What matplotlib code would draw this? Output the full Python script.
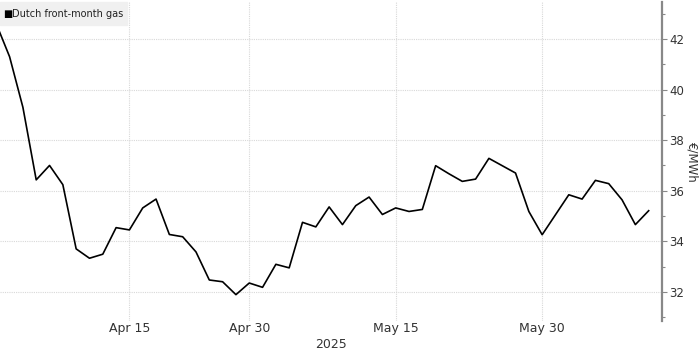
import matplotlib
matplotlib.use("Agg")
import matplotlib.pyplot as plt
from matplotlib.ticker import MultipleLocator

# trading days (Good Friday / Easter Monday closed), Apr 1 - Jun 11 2025
dates = [
    "Apr 1", "Apr 2", "Apr 3", "Apr 4", "Apr 7", "Apr 8", "Apr 9", "Apr 10", "Apr 11",
    "Apr 14", "Apr 15", "Apr 16", "Apr 17", "Apr 22", "Apr 23", "Apr 24", "Apr 25",
    "Apr 28", "Apr 29", "Apr 30", "May 1", "May 2", "May 5", "May 6", "May 7", "May 8",
    "May 9", "May 12", "May 13", "May 14", "May 15", "May 16", "May 19", "May 20",
    "May 21", "May 22", "May 23", "May 26", "May 27", "May 28", "May 29", "May 30",
    "Jun 2", "Jun 3", "Jun 4", "Jun 5", "Jun 6", "Jun 9", "Jun 10", "Jun 11",
]
gas = [
    42.60, 41.30, 39.30, 36.43, 37.00, 36.24, 33.70, 33.33, 33.49,
    34.54, 34.45, 35.32, 35.67, 34.27, 34.18, 33.58, 32.47,
    32.40, 31.89, 32.35, 32.18, 33.09, 32.95, 34.75, 34.57, 35.36,
    34.66, 35.41, 35.75, 35.06, 35.32, 35.18, 35.26, 36.99,
    36.67, 36.37, 36.46, 37.28, 36.99, 36.70, 35.18, 34.26,
    35.05, 35.84, 35.67, 36.41, 36.28, 35.64, 34.66, 35.21,
]
tick_dates = ["Apr 15", "Apr 30", "May 15", "May 30"]
yticks = [32, 34, 36, 38, 40, 42]

x = list(range(len(dates)))

fig = plt.figure(figsize=(7, 3.5), dpi=100)
ax = fig.add_axes([0.0, 0.083, 0.9457, 0.911])

ax.plot(x, gas, color="black", lw=1.2, zorder=3)

ax.set_xlim(0.28, 50.0)
ax.set_ylim(30.85, 43.46)

tick_pos = [dates.index(d) for d in tick_dates]
ax.set_xticks(tick_pos)
ax.set_xticklabels(tick_dates, fontsize=9, color="#333333")
ax.tick_params(axis="x", length=0, pad=1)

ax.yaxis.tick_right()
ax.set_yticks(yticks)
ax.yaxis.set_minor_locator(MultipleLocator(1))
ax.tick_params(axis="y", which="major", length=3.5, width=0.8, color="#888888",
               labelsize=8.5, labelcolor="#333333", pad=1.5)
ax.tick_params(axis="y", which="minor", length=2.5, width=0.8, color="#888888")

# axis titles placed in figure coords so they stay inside the canvas
fig.text(331 / 700, 1 - 344 / 350, "2025", fontsize=9, color="#333333",
         ha="center", va="center")
fig.text(692 / 700, 1 - 162 / 350, "€/MWh", fontsize=8.5, color="#333333",
         rotation=-90, ha="center", va="center")

for s in ["left", "top", "bottom"]:
    ax.spines[s].set_visible(False)
ax.spines["right"].set_color("#888888")
ax.spines["right"].set_linewidth(1.6)

ax.grid(True, which="major", color="#d8d8d8", linestyle=(0, (1, 1)), lw=0.8)
ax.set_axisbelow(True)

# legend box in the top-left corner
fig.patches.append(plt.Rectangle((0.0, 1 - 25 / 350), 127 / 700, 23 / 350,
                                 transform=fig.transFigure, color="#f0f0f0", zorder=0))
fig.text(3 / 700, 1 - 14 / 350, "\u25a0", fontsize=7, va="center", ha="left", color="black")
fig.text(12 / 700, 1 - 14 / 350, "Dutch front-month gas", fontsize=7,
         va="center", ha="left", color="#222222")

fig.savefig("out.png", dpi=100)
